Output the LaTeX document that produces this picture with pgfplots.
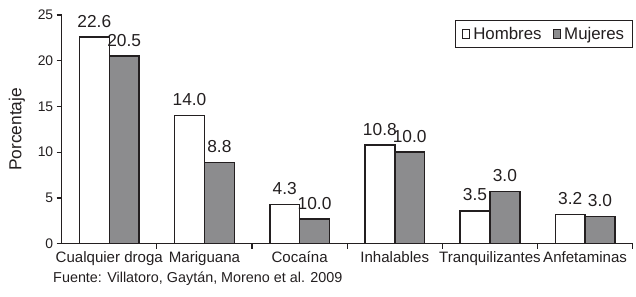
\documentclass[border=0pt]{standalone}
\usepackage{fontspec}
\setmainfont{Liberation Sans}
\usepackage{pgfplots}
\pgfplotsset{compat=1.18}
\usepackage{pgfplotstable}
\definecolor{ink}{HTML}{231F20}
\definecolor{mgray}{HTML}{8C8C8E}

\pgfplotstableread{
x h hl m ml
0 22.6 22.6 20.5 20.5
1 14.0 14.0 8.9 8.8
2 4.3 4.3 2.7 10.0
3 10.8 10.8 10.0 10.0
4 3.6 3.5 5.7 3.0
5 3.2 3.2 3.0 3.0
}\datatable

\begin{document}
\begin{tikzpicture}
\begin{axis}[
  scale only axis, width=574bp, height=230bp,
  xmin=-0.5, xmax=5.5, ymin=0, ymax=25,
  clip=false,
  axis lines*=left,
  axis line style={line width=1.2bp, draw=ink},
  ybar=0pt, bar width=30bp,
  xtick={0,...,5},
  xticklabels={Cualquier droga, Mariguana, Cocaína, Inhalables, Tranquilizantes, Anfetaminas},
  xtick style={draw=none},
  extra x ticks={0.5,1.5,2.5,3.5,4.5,5.5},
  extra x tick labels={},
  extra x tick style={xtick style={draw=ink, line width=1.2bp}},
  ytick={0,5,...,25},
  ytick style={draw=ink, line width=1.2bp},
  tick align=outside, major tick length=5bp,
  /pgf/number format/assume math mode=true,
  y tick label style={font=\fontsize{14}{16}\selectfont, text=ink},
  x tick label style={font=\fontsize{15.2}{17}\selectfont, text=ink, yshift=1bp},
  ylabel=Porcentaje,
  ylabel style={font=\fontsize{17.5}{19}\selectfont, text=ink, at={(axis description cs:-0.0784,0.5)}, anchor=center},
  nodes near coords,
  point meta=explicit symbolic,
  every node near coord/.append style={font=\fontsize{17.5}{19}\selectfont, text=ink, inner sep=0pt, anchor=south, yshift=9bp},
  legend columns=2,
  legend style={at={(1,0.978)}, anchor=north east, draw=ink, line width=1.2bp,
    font=\fontsize{17}{19}\selectfont, text=ink,
    /tikz/every even column/.append style={column sep=9bp},
    /tikz/every odd column/.append style={column sep=1.5bp},
    inner xsep=6bp, inner ysep=4.5bp},
  legend image code/.code={\draw[#1, line width=1.2bp] (0bp,-4.5bp) rectangle (7bp,4.5bp);},
]
\addplot[draw=ink, fill=white, line width=1.5bp] table[x=x, y=h, meta=hl]{\datatable};
\addplot[draw=ink, fill=mgray, line width=1.5bp] table[x=x, y=m, meta=ml]{\datatable};
\legend{Hombres, Mujeres}
\node[anchor=base west, xshift=-12bp, yshift=-39bp, font=\fontsize{14.5}{16}\selectfont, text=ink] at (rel axis cs:0,0) {Fuente: Villatoro, Gaytán, Moreno et al. 2009};
\path (rel axis cs:0,0) ++(-62bp,-53bp) rectangle ++(636bp,298bp);
\end{axis}
\end{tikzpicture}
\end{document}
